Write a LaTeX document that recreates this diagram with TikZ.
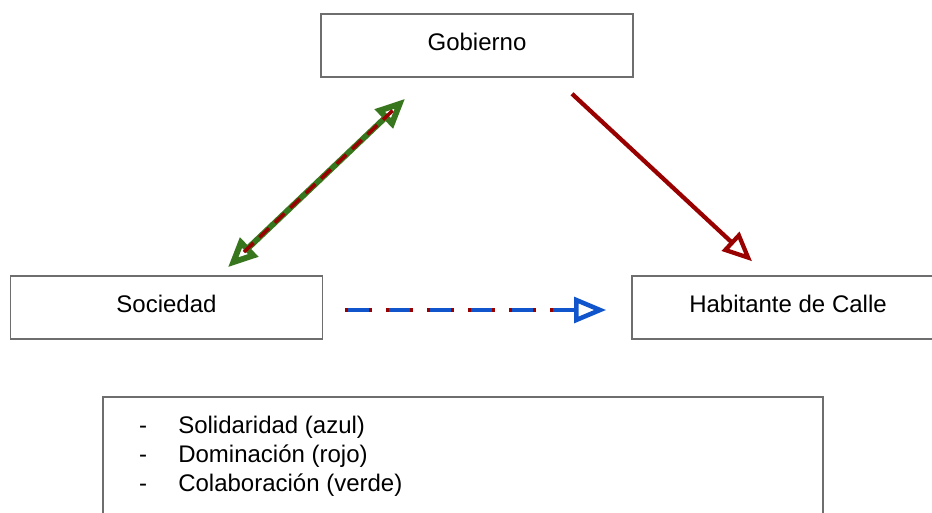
\documentclass[tikz,border=0pt]{standalone}
\usepackage{fontspec}
\setmainfont{Liberation Sans}
\usetikzlibrary{arrows.meta, positioning, calc}
\definecolor{rojo}{HTML}{990000}
\definecolor{verde}{HTML}{38761D}
\definecolor{azul}{HTML}{1155CC}
\definecolor{borde}{HTML}{6E6E6E}
\tikzset{
  caja/.style={draw=borde, line width=1.2pt, minimum width=234pt, minimum height=47.25pt,
    inner sep=0pt, text height=13pt, text depth=5.8pt, font=\fontsize{18}{21.75}\selectfont},
  item/.style={inner sep=0pt, font=\fontsize{18}{21.75}\selectfont},
  punta/.style={-{Triangle[open, length=22pt, width=19pt]}},
}
\begin{document}
\begin{tikzpicture}[x=0.75pt, y=-0.75pt]
			\clip (0,0) rectangle (932,513);
			\fill[white] (0,0) rectangle (932,513);
			\node[caja] (gob) at (477,45.5) {Gobierno};
			\node[caja] (soc) at (166.5,307.5) {Sociedad};
			\node[caja] (hab) at (788,307.5) {Habitante de Calle};
			\node[caja, anchor=north west, minimum width=540pt, minimum height=120pt] (ley) at (102,396) {};
			\foreach \txt/\yy [count=\i] in {Solidaridad (azul)/433, Dominación (rojo)/462, Colaboración (verde)/491} {
				\node[item, anchor=base] (guion\i) at (143,\yy) {-};
				\node[item, anchor=base west] (linea\i) at (178,\yy) {\txt};
			}
			% colaboracion / dominacion
			\coordinate (sg1) at ($(soc.north)+(61.5,-8)$);
			\coordinate (sg2) at ($(gob.south)+(-72,21)$);
			\draw[verde, line width=4.4pt, {Triangle[open, length=22pt, width=19pt]}-{Triangle[open, length=22pt, width=19pt]}] (sg1) -- (sg2);
			\draw[rojo, line width=2.6pt, dash pattern=on 10pt off 6pt] ($(sg1)!0.09!(sg2)$) -- ($(sg2)!0.07!(sg1)$);
			% dominacion
			\coordinate (gh1) at ($(gob.south)+(95,16)$);
			\coordinate (gh2) at ($(hab.north)+(-36,-14)$);
			\draw[rojo, line width=3.2pt, punta] (gh1) -- (gh2);
			% solidaridad / dominacion
			\coordinate (sh1) at ($(soc.east)+(22,2.5)$);
			\coordinate (sh2) at ($(hab.west)+(-25,2.5)$);
			\draw[rojo, line width=3.4pt, dash pattern=on 20.25pt off 10.5pt] (sh1) -- ($(sh2)+(-28,0)$);
			\draw[azul, line width=3.4pt, dash pattern=on 15.75pt off 15pt, dash phase=28.5pt, -{Triangle[open, length=24pt, width=19pt]}] (sh1) -- (sh2);
		\end{tikzpicture}
\end{document}
